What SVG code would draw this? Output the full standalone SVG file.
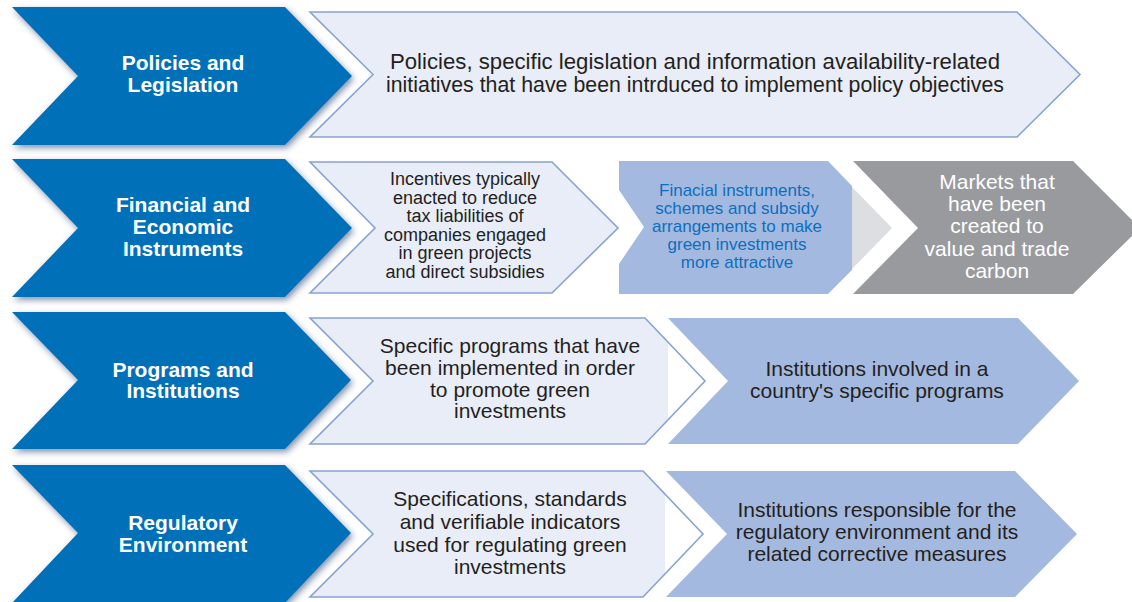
<svg xmlns="http://www.w3.org/2000/svg" width="1132" height="602" viewBox="0 0 1132 602">
<defs>
<filter id="sh" x="-10%" y="-10%" width="125%" height="130%">
<feDropShadow dx="2" dy="3" stdDeviation="3" flood-color="#1a3a6a" flood-opacity="0.55"/>
</filter>
<style>
.blue{fill:#0670B8;filter:url(#sh)}
.lt{fill:#E9EDF7}
.ltS{fill:none;stroke:#86A3D6;stroke-width:1.6;stroke-linejoin:miter}
.med{fill:#A4B9DF}
.gray{fill:#999A9E}
.tip{fill:#DCDEE2}
text{font-family:"Liberation Sans",Arial,sans-serif;text-anchor:middle}
.hd{fill:#fff;font-weight:bold;font-size:21px}
.dk{fill:#231F20;font-size:21px}
.dk1{fill:#231F20;font-size:21.5px}
.sm{fill:#231F20;font-size:18px}
.bl{fill:#0A6FBF;font-size:17px}
.wh{fill:#fff;font-size:21px}
</style>
</defs>
<rect width="1132" height="602" fill="#fff"/>
<g id="connectors"/>

<g id="row1-head">
<polygon class="blue" points="12,7 285,7 352,76 285,145 12,145 78,76"/>
<text class="hd" x="183" y="70">Policies and</text>
<text class="hd" x="183" y="92">Legislation</text>
</g>
<g id="row1-desc">
<polygon class="lt" points="310,12 1017,12 1080,74.5 1017,137 310,137 373,74.5"/>
<polygon class="ltS" points="310,12 1017,12 1080,74.5 1017,137 310,137 373,74.5"/>
<text class="dk1" x="695" y="69" textLength="610" lengthAdjust="spacingAndGlyphs">Policies, specific legislation and information availability-related</text>
<text class="dk1" x="695" y="92" textLength="618" lengthAdjust="spacingAndGlyphs">initiatives that have been intrduced to implement policy objectives</text>
</g>

<g id="row2-head">
<polygon class="blue" points="12,159 285,159 352,228 285,297 12,297 78,228"/>
<text class="hd" x="183" y="212">Financial and</text>
<text class="hd" x="183" y="234">Economic</text>
<text class="hd" x="183" y="256">Instruments</text>
</g>
<g id="row2-incentives">
<polygon class="lt" points="310,162 552,162 618,228 552,293 310,293 375,228"/>
<polygon class="ltS" points="310,162 552,162 618,228 552,293 310,293 375,228"/>
<text class="sm" x="465" y="185">Incentives typically</text>
<text class="sm" x="465" y="203.5">enacted to reduce</text>
<text class="sm" x="465" y="222">tax liabilities of</text>
<text class="sm" x="465" y="240.5">companies engaged</text>
<text class="sm" x="465" y="259">in green projects</text>
<text class="sm" x="465" y="277.5">and direct subsidies</text>
</g>
<g id="row2-financial">
<polygon class="med" points="619,161 828,161 852,186 852,270 828,294 619,294 619,264 644,227 619,190"/>
<polygon class="tip" points="852,187 892,228 852,269"/>
<text class="bl" x="737" y="196">Finacial instruments,</text>
<text class="bl" x="737" y="214">schemes and subsidy</text>
<text class="bl" x="737" y="232">arrangements to make</text>
<text class="bl" x="737" y="250">green investments</text>
<text class="bl" x="737" y="268">more attractive</text>
</g>
<g id="row2-markets">
<polygon class="gray" points="853,161 1073,161 1140,228 1073,294 853,294 918,228"/>
<text class="wh" x="997" y="189">Markets that</text>
<text class="wh" x="997" y="211">have been</text>
<text class="wh" x="997" y="233">created to</text>
<text class="wh" x="997" y="255.5">value and trade</text>
<text class="wh" x="997" y="278">carbon</text>
</g>

<g id="row3-head">
<polygon class="blue" points="12,312 285,312 351,380 285,449 12,449 78,380"/>
<text class="hd" x="183" y="377">Programs and</text>
<text class="hd" x="183" y="398">Institutions</text>
</g>
<g id="row3-programs">
<polygon class="lt" points="310,318 645,318 668,342 668,420 645,444 310,444 373,381"/>
<polygon class="ltS" points="310,318 645,318 705,381 645,444 310,444 373,381"/>
<text class="dk" x="510" y="353">Specific programs that have</text>
<text class="dk" x="510" y="375">been implemented in order</text>
<text class="dk" x="510" y="397">to promote green</text>
<text class="dk" x="510" y="418">investments</text>
</g>
<g id="row3-institutions">
<polygon class="med" points="668,318 1018,318 1079,381 1018,444 668,444 728,381"/>
<text class="dk" x="877" y="376">Institutions involved in a</text>
<text class="dk" x="877" y="398">country's specific programs</text>
</g>

<g id="row4-head">
<polygon class="blue" points="12,465 285,465 351,533 285,603 12,603 78,533"/>
<text class="hd" x="183" y="530">Regulatory</text>
<text class="hd" x="183" y="552">Environment</text>
</g>
<g id="row4-specs">
<polygon class="lt" points="310,471 643,471 665,494 665,574 643,597 310,597 373,534"/>
<polygon class="ltS" points="310,471 643,471 703,534 643,597 310,597 373,534"/>
<text class="dk" x="510" y="506">Specifications, standards</text>
<text class="dk" x="510" y="529">and verifiable indicators</text>
<text class="dk" x="510" y="552">used for regulating green</text>
<text class="dk" x="510" y="574">investments</text>
</g>
<g id="row4-institutions">
<polygon class="med" points="666,471 1015,471 1077,534 1015,597 666,597 727,534"/>
<text class="dk" x="877" y="517">Institutions responsible for the</text>
<text class="dk" x="877" y="539">regulatory environment and its</text>
<text class="dk" x="877" y="561">related corrective measures</text>
</g>
</svg>
